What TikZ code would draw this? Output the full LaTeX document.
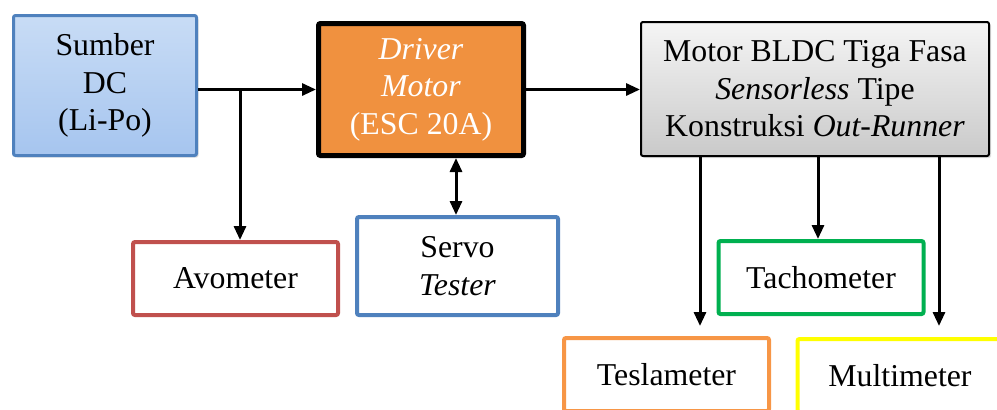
\documentclass[tikz,border=0pt]{standalone}
\usepackage{fontspec}
\setmainfont{Liberation Serif}
\usetikzlibrary{arrows.meta,shadows}

\definecolor{biruTepi}{HTML}{4F81BD}
\definecolor{biruAtas}{HTML}{C8DCF5}
\definecolor{biruBawah}{HTML}{A6C5EF}
\definecolor{oranyeIsi}{HTML}{F0913F}
\definecolor{oranyeTepi}{HTML}{F79646}
\definecolor{merahTepi}{HTML}{C0504D}
\definecolor{hijauTepi}{HTML}{00B050}
\definecolor{kuningTepi}{HTML}{FFFF00}

\begin{document}
\begin{tikzpicture}[x=0.5pt,y=-0.5pt,
    font=\fontsize{15.9}{18.8}\selectfont,
    kotak/.style={rectangle, align=center, inner sep=2pt, rounded corners=1pt},
    bayang/.style={drop shadow={opacity=0.25, shadow xshift=1pt, shadow yshift=-1pt}},
    alat/.style={kotak, fill=white, line width=2pt, minimum width=102.5pt, minimum height=36.5pt},
    panah/.style={line width=1.5pt, -{Triangle[length=7pt,width=6pt]}}]
    \clip (0,0) rectangle (997,409);

    % Blok utama
    \node[kotak, bayang, draw=biruTepi, line width=1.5pt, top color=biruAtas, bottom color=biruBawah,
          minimum width=91.5pt, minimum height=70pt] (sumber) at (105,85.5) {Sumber\\DC\\(Li-Po)};
    \node[kotak, bayang, draw=black, line width=2.5pt, fill=oranyeIsi, text=white,
          minimum width=102.5pt, minimum height=66pt] (driver) at (421,89.5) {\textit{Driver}\\\textit{Motor}\\(ESC 20A)};
    \node[kotak, bayang, draw=black, line width=1pt, top color=gray!8, bottom color=gray!42,
          minimum width=174pt, minimum height=67pt] (motor) at (815,89)
          {Motor BLDC Tiga Fasa\\\textit{Sensorless} Tipe\\Konstruksi \textit{Out-Runner}};

    % Alat ukur
    \node[alat, draw=merahTepi] (avo) at (235.5,278.5) {Avometer};
    \node[alat, draw=biruTepi, minimum width=100.5pt, minimum height=49pt] (servo) at (457.5,266) {Servo\\\textit{Tester}};
    \node[alat, draw=hijauTepi] (tacho) at (821,277.5) {Tachometer};
    \node[alat, draw=oranyeTepi] (tesla) at (666.5,374.5) {Teslameter};
    \node[alat, draw=kuningTepi] (multi) at (900,375.5) {Multimeter};

    % Titik bantu
    \coordinate (cabang) at (240,89.5);
    \coordinate (ke-tesla) at (700,0);
    \coordinate (ke-tacho) at (818,0);
    \coordinate (ke-multi) at (939,0);

    % Sambungan
    \draw[panah] (sumber.east |- driver.west) -- (driver.west);
    \draw[panah] (cabang) -- (cabang |- avo.north);
    \draw[panah] (driver.east) -- (motor.west |- driver.east);
    \draw[line width=1.5pt, {Triangle[length=7pt,width=6pt]}-{Triangle[length=7pt,width=6pt]}]
        (servo.north -| 456,0) -- (driver.south -| 456,0);
    \draw[panah, shorten >=5pt] (motor.south -| ke-tesla) -- (tesla.north -| ke-tesla);
    \draw[panah] (motor.south -| ke-tacho) -- (tacho.north -| ke-tacho);
    \draw[panah, shorten >=5.5pt] (motor.south -| ke-multi) -- (multi.north -| ke-multi);
\end{tikzpicture}
\end{document}
